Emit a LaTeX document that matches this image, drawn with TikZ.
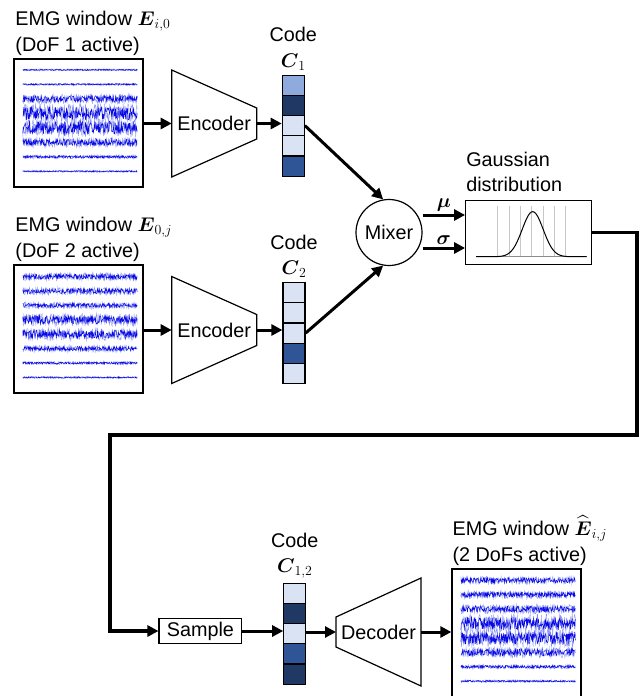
\RequirePackage{fix-cm}
\documentclass[tikz,border=0pt]{standalone}
\usepackage{amsmath}
\usepackage{fontspec}
\setmainfont{Liberation Sans}
\usetikzlibrary{arrows.meta,calc}

\definecolor{codeLight}{HTML}{DAE3F3}
\definecolor{codeMid}{HTML}{8FAADC}
\definecolor{codeNavy}{HTML}{203864}
\definecolor{codeDark}{HTML}{2F5597}
\definecolor{sigBlue}{HTML}{0A0AE6}
\definecolor{sigHalo}{HTML}{8C96F0}

\tikzset{
    emgbox/.style = {draw, line width = 1.3pt, minimum width = 129pt, minimum height = 128pt, inner sep = 0pt},
    cell/.style = {draw, line width = 1.2pt, minimum width = 22pt, minimum height = 20.2pt, inner sep = 0pt},
    arr/.style = {line width = 3pt, -{Triangle[length = 11pt, width = 11pt]}},
    boxline/.style = {line width = 1.2pt},
    sig/.style = {sigBlue, line width = 0.45pt},
    sighalo/.style = {sigHalo, line width = 0.4pt},
    titletext/.style = {align = left, anchor = south west, inner sep = 0pt}
}

\begin{document}
\begin{tikzpicture}[x = 1pt, y = -1pt, font = \fontsize{19.8}{25.5}\selectfont]
        \useasboundingbox (0,0) rectangle (643,696);
        \clip (0,0) rectangle (643,696);
        \pgfmathsetseed{7}
        % EMG windows
        \node[emgbox] (emg1) at (78.4,123) {};
        \node[emgbox] (emg2) at (78.4,329) {};
        \node[emgbox] (emg3) at (516.5,633) {};
        \node[titletext] (title1) at ([shift = {(2pt,3pt)}]emg1.north west) {EMG window $\boldsymbol{E}_{i,0}$\\(DoF 1 active)};
        \node[titletext] (title2) at ([shift = {(2pt,3pt)}]emg2.north west) {EMG window $\boldsymbol{E}_{0,j}$\\(DoF 2 active)};
        \node[titletext] (title3) at ([shift = {(1pt,3pt)}]emg3.north west) {EMG window $\widehat{\boldsymbol{E}}_{i,j}$\\(2 DoFs active)};
        \begin{scope}[shift = {(emg1.north west)}]
            \foreach \k/\aa in {1/0.7, 2/0.8, 3/3.2, 4/6.5, 5/6.5, 6/3.2, 7/1.3, 8/0.7}
            {
                \draw[sighalo] plot[domain = 9.5:124, samples = 220] (\x,{11.5+14.5*(\k-1)+1.5*\aa*rand});
                \draw[sig] plot[domain = 9.5:124, samples = 260] (\x,{11.5+14.5*(\k-1)+\aa*rand});
            }
        \end{scope}
        \begin{scope}[shift = {(emg2.north west)}]
            \foreach \k/\aa in {1/2.6, 2/2.6, 3/2.2, 4/4.3, 5/4.3, 6/2.2, 7/1.1, 8/0.7}
            {
                \draw[sighalo] plot[domain = 9.5:124, samples = 220] (\x,{12.3+14.4*(\k-1)+1.5*\aa*rand});
                \draw[sig] plot[domain = 9.5:124, samples = 260] (\x,{12.3+14.4*(\k-1)+\aa*rand});
            }
        \end{scope}
        \begin{scope}[shift = {(emg3.north west)}]
            \foreach \k/\aa in {1/2.6, 2/2.6, 3/3.2, 4/6.5, 5/6.5, 6/3.6, 7/1.4, 8/0.9}
            {
                \draw[sighalo] plot[domain = 9.5:124, samples = 220] (\x,{12+14.4*(\k-1)+1.5*\aa*rand});
                \draw[sig] plot[domain = 9.5:124, samples = 260] (\x,{12+14.4*(\k-1)+\aa*rand});
            }
        \end{scope}
        % encoders and decoder
        \node (enc1) at (214.2,123.5) {Encoder};
        \node (enc2) at (214.2,330) {Encoder};
        \node (dec) at (378.5,632) {Decoder};
        \draw[boxline] ($(enc1)+(-42.5,-53.5)$) -- ++(85,38) -- ++(0,31) -- ++(-85,38) -- cycle;
        \draw[boxline] ($(enc2)+(-42.5,-53.5)$) -- ++(85,38) -- ++(0,31) -- ++(-85,38) -- cycle;
        \draw[boxline] ($(dec)+(-42.5,-15)$) -- ++(85,-39) -- ++(0,108) -- ++(-85,-39) -- cycle;
        \coordinate (enc1 in) at ($(enc1)+(-42.5,0)$);
        \coordinate (enc1 out) at ($(enc1)+(42.5,0)$);
        \coordinate (enc2 in) at ($(enc2)+(-42.5,0)$);
        \coordinate (enc2 out) at ($(enc2)+(42.5,0)$);
        \coordinate (dec in) at ($(dec)+(-42.5,0)$);
        \coordinate (dec out) at ($(dec)+(42.5,0)$);
        % codes
        \foreach \col [count = \k] in {codeMid, codeNavy, codeLight, codeLight, codeDark}
            \node[cell, fill = \col] (c1-\k) at (293.3,{65+20.2*\k}) {};
        \foreach \col [count = \k] in {codeLight, codeLight, codeLight, codeDark, codeLight}
            \node[cell, fill = \col] (c2-\k) at (294,{272.5+20.2*\k}) {};
        \foreach \col [count = \k] in {codeLight, codeNavy, codeLight, codeDark, codeNavy}
            \node[cell, fill = \col] (c12-\k) at (294.8,{573+20.2*\k}) {};
        \begin{scope}[every node/.append style = {align = center, anchor = south, inner sep = 0pt}]
            \node (code1) at ([yshift = 4pt]c1-1.north) {Code\\$\boldsymbol{C}_1$};
            \node (code2) at ([yshift = 4pt]c2-1.north) {Code\\$\boldsymbol{C}_2$};
            \node (code12) at ([yshift = 4pt]c12-1.north) {Code\\$\boldsymbol{C}_{1,2}$};
        \end{scope}
        % mixer and distribution
        \node[draw, boxline, circle, minimum size = 66pt, inner sep = 0pt] (mixer) at (389,232.5) {Mixer};
        \node[draw, boxline, minimum width = 126pt, minimum height = 63.6pt] (gauss) at (528.7,232.5) {};
        \node[titletext] (gausslbl) at ([shift = {(1pt,8pt)}]gauss.north west) {Gaussian\\distribution};
        \begin{scope}[shift = {(gauss.center)}]
            \foreach \gx in {-31,-19.7,-8.4,2.9,14.2,25.5,36.8}
                \draw[black!22, line width = 0.6pt] (\gx,-26.5) -- (\gx,24.2);
            \draw[black!45, line width = 0.8pt] (-52.7,24.2) -- (58,24.2);
            \draw[line width = 1pt] plot[domain = -52.7:58, samples = 120, smooth] (\x,{24.2-45*exp(-((\x-4)^2)/(2*10.5^2))});
        \end{scope}
        \node[draw, boxline, minimum width = 82.7pt, minimum height = 24pt] (sample) at (200.4,631) {Sample};
        \coordinate (turn1) at (636.7,435);
        \coordinate (turn2) at (110,435);
        % connectors
        \draw[arr] (emg1.east |- enc1) -- (enc1 in);
        \draw[arr] (emg2.east |- enc2) -- (enc2 in);
        \draw[arr] (enc1 out) -- (enc1 out -| c1-3.west);
        \draw[arr] (enc2 out) -- (enc2 out -| c2-3.west);
        \draw[arr] (c1-3.east) -- (mixer.100);
        \draw[arr] (c2-3.east) -- (mixer.260);
        \draw[arr] ([yshift = 17.5pt]mixer.east) -- ([yshift = 17.5pt]mixer.east -| gauss.west) node[midway, above, inner sep = 2pt] (mu) {$\boldsymbol{\mu}$};
        \draw[arr] ([yshift = -15.5pt]mixer.east) -- ([yshift = -15.5pt]mixer.east -| gauss.west) node[midway, above, inner sep = 2pt] (sigma) {$\boldsymbol{\sigma}$};
        \draw[arr, line width = 3.8pt] (gauss.east) -| (turn1) -- (turn2) |- (sample.west);
        \draw[arr] (sample.east) -- (sample.east -| c12-3.west);
        \draw[arr] (c12-3.east |- dec in) -- (dec in);
        \draw[arr] (dec out) -- (dec out -| emg3.west);
    \end{tikzpicture}
\end{document}
